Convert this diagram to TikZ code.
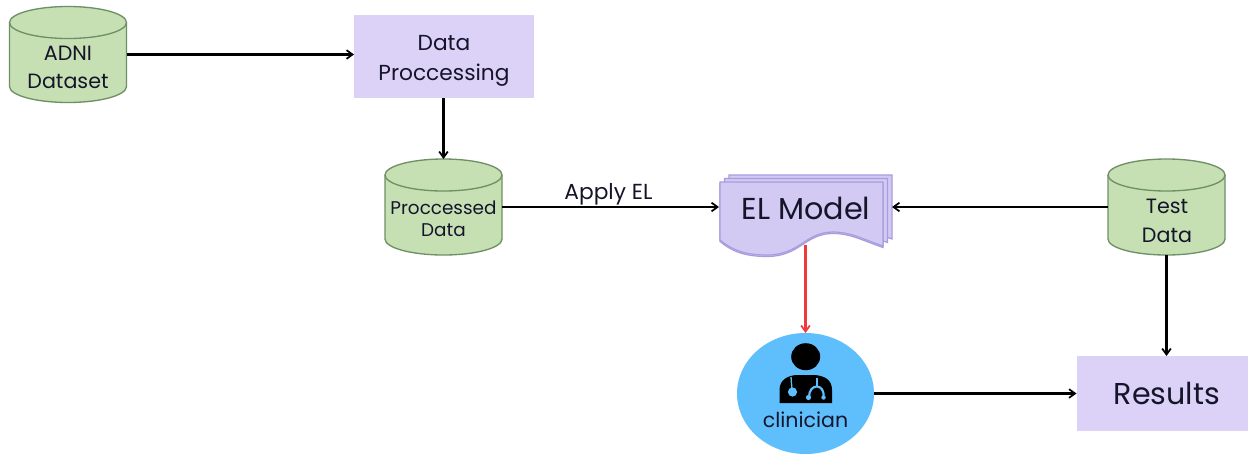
\documentclass[tikz,border=0pt]{standalone}
\usepackage{fontspec}
\setmainfont{Poppins}
\usetikzlibrary{arrows.meta,shapes.geometric}
\definecolor{cylfill}{HTML}{C6E0B4}
\definecolor{cylline}{HTML}{6F8F66}
\definecolor{boxfill}{HTML}{DCD2F7}
\definecolor{docfill}{HTML}{D3CAF4}
\definecolor{docline}{HTML}{A89CDC}
\definecolor{circfill}{HTML}{5FBFFD}
\definecolor{ink}{HTML}{15152A}
\definecolor{redline}{HTML}{EE3A3A}
\newcommand{\fsz}[2]{\fontsize{#1}{#2}\selectfont}
\tikzset{
  x=0.75pt,y=-0.75pt,
  every node/.style={text=ink,inner sep=0pt,outer sep=0pt,align=center},
  dbnode/.style={rectangle,minimum width=88pt,minimum height=72pt},
  cylpart/.style={fill=cylfill,draw=cylline,line width=1pt},
  procbox/.style={rectangle,fill=boxfill,draw=none},
  link/.style={draw=black,line width=1.7pt,-{Straight Barb[length=4.5pt,width=6.5pt,line width=1.3pt]}},
  redlink/.style={draw=redline,line width=1.7pt,-{Straight Barb[length=4.5pt,width=6.5pt,line width=1.3pt,color=redline]}},
  sheet/.style={fill=docfill,draw=docline,line width=0.9pt},
}
\newcommand{\wavesheet}[2]{%
  \path[sheet,shift={(#1,#2)}] (720,182) -- (883,182) -- (883,246)
    .. controls (860,238) and (850,232) .. (833,232)
    .. controls (805,232) and (800,255) .. (767,255)
    .. controls (745,255) and (732,250) .. (720,240) -- cycle;}
\newcommand{\dbdrum}[2]{%
  \path[cylpart,shift={(#1,#2)}] (-58.5,-32) -- (-58.5,32)
    .. controls (-58.5,40.8) and (-32.3,48) .. (0,48)
    .. controls (32.3,48) and (58.5,40.8) .. (58.5,32) -- (58.5,-32)
    .. controls (58.5,-40.8) and (32.3,-48) .. (0,-48)
    .. controls (-32.3,-48) and (-58.5,-40.8) .. (-58.5,-32) -- cycle;
  \draw[cylline,line width=1pt,shift={(#1,#2)}] (-58.5,-32)
    .. controls (-58.5,-23.2) and (-32.3,-16) .. (0,-16)
    .. controls (32.3,-16) and (58.5,-23.2) .. (58.5,-32);}
\begin{document}
\begin{tikzpicture}
\useasboundingbox (0,0) rectangle (1248,454);
\fill[white] (0,0) rectangle (1248,454);

\dbdrum{68}{54.5}
\node[dbnode] (adni) at (68,54.5) {};
\node[font=\fsz{15.5}{21}] (adnitext) at (68,67) {ADNI\\Dataset};

\node[procbox,minimum width=135pt,minimum height=62.25pt] (dp) at (444,56.5) {};
\node[font=\fsz{16.3}{22.5}] (dptext) at (444,60.5) {Data\\Proccessing};

\dbdrum{443.5}{207}
\node[dbnode] (pd) at (443.5,207) {};
\node[font=\fsz{13.8}{16.5}] (pdtext) at (443.5,219) {Proccessed\\Data};

\wavesheet{9}{-7}
\wavesheet{4.5}{-3.5}
\wavesheet{0}{1.5}
\wavesheet{0}{0}
\coordinate (elwest) at (719,207);
\coordinate (eleast) at (892,207);
\coordinate (elsouth) at (805.5,245);
\node[font=\fsz{22.7}{28}] (el) at (806,208) {EL Model};

\dbdrum{1166.5}{207}
\node[dbnode] (test) at (1166.5,207) {};
\node[font=\fsz{15.5}{21.5}] (testtext) at (1167,221) {Test\\Data};

\node[ellipse,fill=circfill,minimum width=102.75pt,minimum height=90.75pt] (clin) at (805.5,393.5) {};
\node[font=\fsz{15.4}{19}] (clintext) at (805.5,420) {clinician};
% doctor icon
\fill[black] (805.7,356.7) ellipse [x radius=14.5,y radius=13.5];
\fill[black] (779.5,403) -- (779.5,390) .. controls (779.5,380) and (787,376) .. (796,375)
  -- (815,375) .. controls (825,376) and (832,380) .. (832,390) -- (832,403) -- cycle;
\draw[circfill,line width=1pt] (791,377) -- (792,390);
\fill[circfill] (792.5,392) circle [radius=4.6];
\draw[circfill,line width=1.4pt] (817,378) -- (817,387);
\draw[circfill,line width=1.6pt] (809,397) .. controls (809,383) and (825,383) .. (823.5,397);
\fill[circfill] (808.5,397.5) circle [radius=2.6];
\fill[circfill] (823.5,397.5) circle [radius=2.2];

\node[procbox,minimum width=129pt,minimum height=56.25pt,font=\fsz{22.6}{28}] (res) at (1162.5,393.5)
  {\hspace*{6.5pt}Results};

\draw[link] (adni.east) -- (adni.east -| dp.west);
\draw[link] (dp.south -| pd.north) -- (pd.north);
\draw[link] (pd.east |- elwest) -- node[above=1.5pt,pos=0.49,font=\fsz{16.3}{20}] {Apply EL} (elwest);
\draw[link] (test.west |- eleast) -- (eleast);
\draw[redlink] (elsouth) -- (clin.north);
\draw[link] (clin.east) -- (res.west);
\draw[link] (test.south) -- (test.south |- res.north);
\end{tikzpicture}
\end{document}
